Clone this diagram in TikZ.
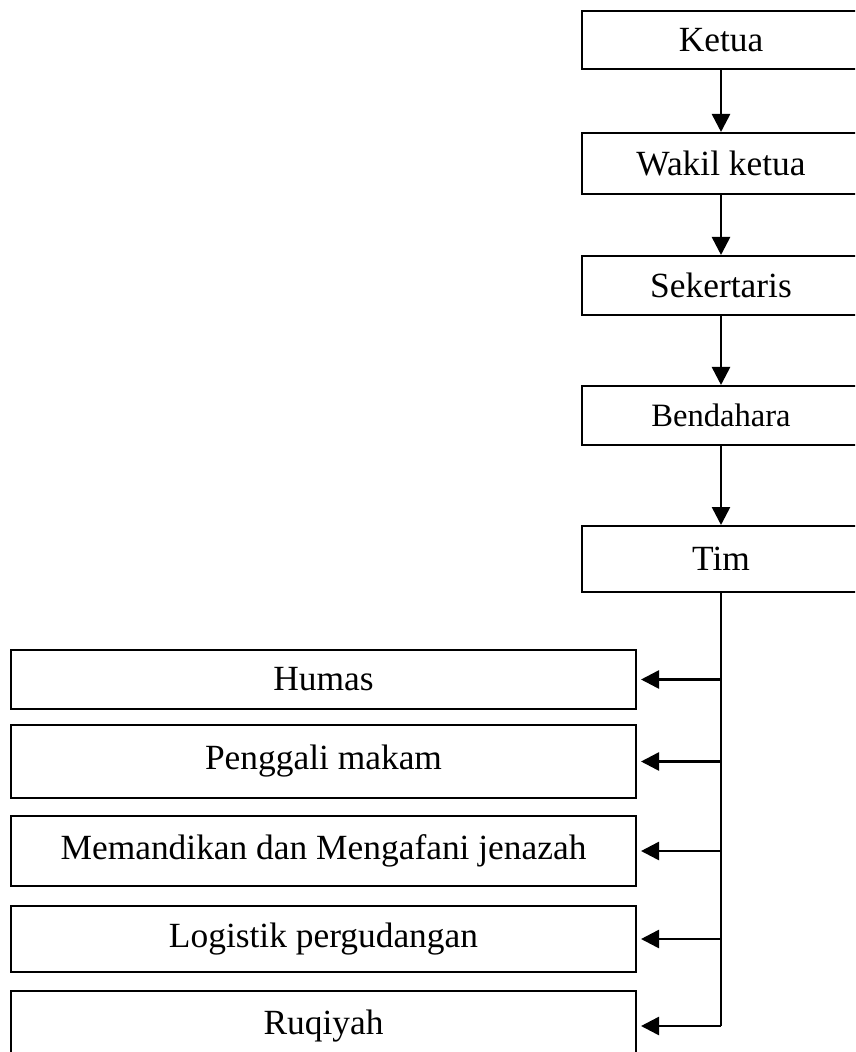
\documentclass[tikz,border=0pt]{standalone}
\usepackage{fontspec}
\setmainfont{Liberation Serif}
\usetikzlibrary{positioning, arrows.meta}

\begin{document}
\begin{tikzpicture}[x=0.5pt, y=-0.5pt, line width=1pt,
    jabatan/.style={draw, minimum width=139pt, inner sep=0pt, font=\fontsize{17.7}{20}\selectfont},
    seksi/.style={draw, minimum width=312.5pt, inner sep=0pt, font=\fontsize{17.7}{20}\selectfont},
    panah/.style={-{Triangle[length=9pt, width=9pt]}, line width=1.3pt}]
    \useasboundingbox (0,0) rectangle (855,1052);
    \clip (0,0) rectangle (855,1052);

    % Pengurus inti
    \node[jabatan, minimum height=29pt] (ketua) at (721,40) {Ketua};
    \node[jabatan, minimum height=30.5pt] (wakil) at (721,163.5) {Wakil ketua};
    \node[jabatan, minimum height=29.5pt] (sekretaris) at (721,285.5) {Sekertaris};
    \node[jabatan, minimum height=29.5pt, font=\fontsize{16.3}{18}\selectfont] (bendahara) at (721,415.5) {Bendahara};
    \node[jabatan, minimum height=33pt] (tim) at (721,559) {Tim};

    \foreach \a/\b in {ketua/wakil, wakil/sekretaris, sekretaris/bendahara, bendahara/tim}
        \draw[panah] (\a) -- (\b);

    % Seksi tim
    \node[seksi, minimum height=29.5pt] (humas) at (323.5,679.5) {Humas};
    \node[seksi, minimum height=36.5pt] (penggali) at (323.5,761.5) {Penggali makam};
    \node[seksi, minimum height=35pt] (memandikan) at (323.5,851) {Memandikan dan Mengafani jenazah};
    \node[seksi, minimum height=33pt] (logistik) at (323.5,939) {Logistik pergudangan};
    \node[seksi, minimum height=35pt] (ruqiyah) at (323.5,1026) {Ruqiyah};

    % Garis cabang dari tim
    \coordinate (ujung) at (tim.south |- ruqiyah.east);
    \draw[line width=1.3pt] (tim.south) -- (ujung);
    \foreach \s in {humas, penggali, memandikan, logistik, ruqiyah}
        \draw[panah, shorten >=2pt] (tim.south |- \s.east) -- (\s.east);
\end{tikzpicture}
\end{document}
